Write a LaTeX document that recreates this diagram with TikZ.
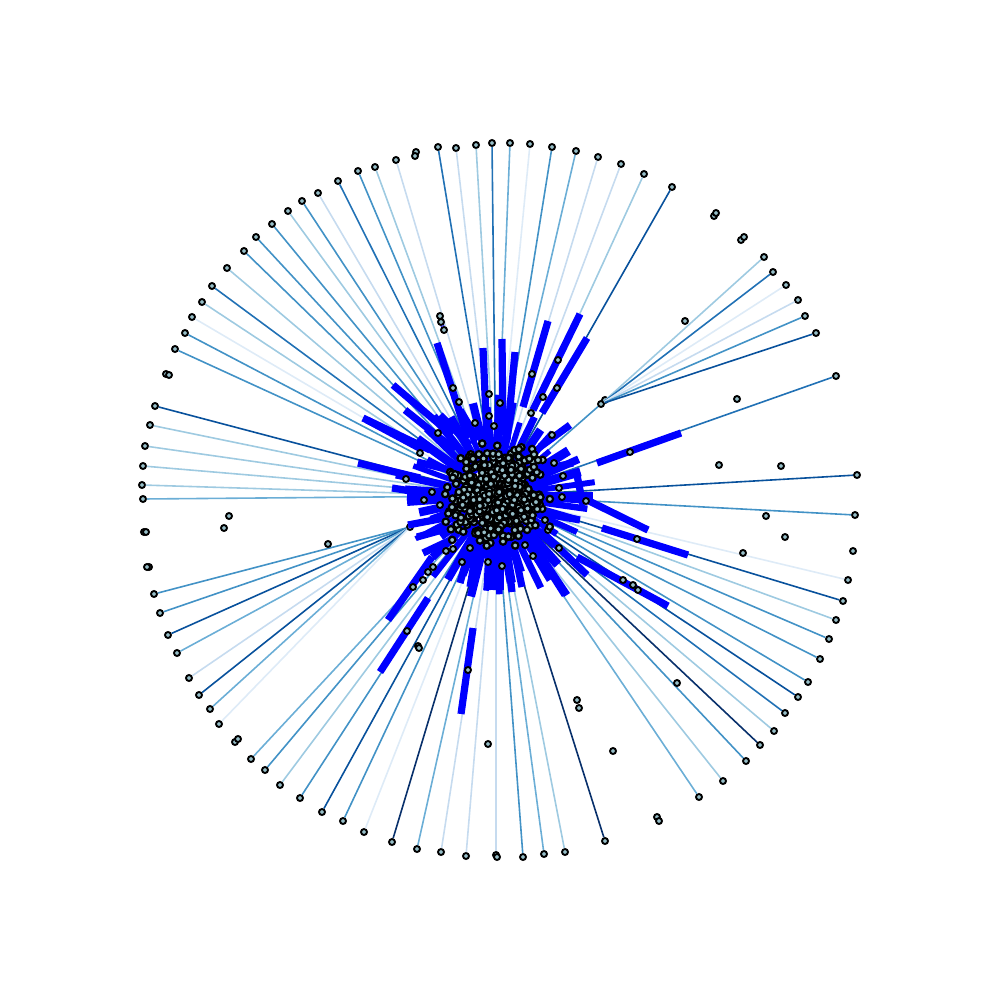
\documentclass[tikz,border=0pt]{standalone}
\usetikzlibrary{calc}
\definecolor{B1}{HTML}{DEEBF7}
\definecolor{B2}{HTML}{C6DBEF}
\definecolor{B3}{HTML}{9ECAE1}
\definecolor{B4}{HTML}{6BAED6}
\definecolor{B5}{HTML}{4292C6}
\definecolor{B6}{HTML}{2171B5}
\definecolor{B7}{HTML}{08519C}
\definecolor{B8}{HTML}{08306B}
\definecolor{nodefill}{RGB}{150,190,200}
\tikzset{
  dot/.style={circle,draw=black,fill=nodefill,line width=0.95pt,inner sep=0pt,minimum size=3pt},
  cdot/.style={dot,line width=1.1pt,minimum size=3.2pt},
  thin/.style={line width=0.8pt},
  bar/.style={draw=blue,line width=3.6pt,line cap=butt}
}
\begin{document}
\begin{tikzpicture}[x=0.5pt,y=-0.5pt]
\useasboundingbox (0,0) rectangle (1000,1000);
\pgfmathsetseed{11}
\coordinate (ctr) at (496,496);
% hub nodes
\node[dot] (hLL) at (410,527) {};
\node[dot] (hUR) at (601,404) {};
\node[dot] (hUR2) at (605,400) {};
% ring nodes with thin lines toward the centre
\foreach \x/\y/\c [count=\n] in {
375/167/B3, 358/171/B5, 338/181/B6, 318/193/B2, 302/201/B5, 288/211/B3, 272/224/B5, 256/237/B5, 244/251/B5, 227/268/B3, 212/286/B6, 202/302/B3, 192/317/B1, 185/333/B5, 175/349/B5, 155/406/B7, 150/425/B3, 145/446/B3, 143/466/B3, 142/485/B3, 143/499/B4,
396/160/B2, 438/147/B6, 456/148/B2, 476/145/B3, 492/143/B6, 510/143/B4, 530/144/B1, 552/147/B5, 576/151/B4, 598/157/B2, 621/164/B2, 644/174/B3, 672/187/B7,
836/376/B6, 857/475/B7, 855/515/B5, 848/580/B1, 843/601/B7, 836/620/B3, 829/639/B5, 820/659/B5, 808/682/B5, 798/697/B7, 785/713/B6, 774/731/B3, 760/745/B8, 746/761/B5, 723/781/B3, 699/797/B4,
605/841/B8, 565/852/B3, 544/854/B4, 523/857/B5, 496/855/B2, 466/856/B2, 441/852/B2, 417/849/B4, 392/842/B8, 364/832/B1, 343/821/B5, 322/812/B7, 300/798/B5, 280/785/B3, 265/770/B5, 251/759/B4}{
  \node[dot] (o\n) at (\x,\y) {};
  \draw[thin,\c] (o\n) -- ($(ctr)!0.12!(o\n)$);
}
% lower-left group converging at hub
\foreach \x/\y/\c [count=\n] in {154/594/B5, 160/613/B5, 168/635/B7, 177/653/B4, 189/678/B2, 199/695/B7, 210/709/B4, 219/724/B1}{
  \node[dot] (p\n) at (\x,\y) {};
  \draw[thin,\c] (p\n) -- (hLL);
}
% upper-right group converging at hub
\foreach \x/\y/\c [count=\n] in {764/257/B3, 773/272/B6, 786/285/B1, 798/300/B2, 805/316/B5, 816/333/B7}{
  \node[dot] (u\n) at (\x,\y) {};
  \draw[thin,\c] (u\n) -- (hUR);
}
\draw[thin,B5] (hUR) -- ($(ctr)!0.4!(hUR)$);
\draw[thin,B3] (hLL) -- ($(ctr)!0.4!(hLL)$);
% halo of short thick bars
\foreach \a in {0,8,...,356}{
  \pgfmathsetmacro\L{84+20*rand}
  \pgfmathsetmacro\W{3.6+1.2*rand}
  \draw[bar,line width=\W pt] ($(ctr)+(\a:30)$) -- ($(ctr)+(\a:\L)$);
}
% long thick bars
\foreach \xa/\ya/\xb/\yb [count=\n] in {
437/343/468/438, 483/348/487/440, 502/339/503/435, 515/352/507/440, 548/321/523/407, 580/314/533/410, 587/338/542/413,
393/385/452/435, 363/418/430/450, 358/463/420/478, 392/488/450/497, 407/497/453/500,
681/433/597/463, 570/425/540/447, 573/463/540/470, 576/470/583/505, 583/500/540/497, 648/530/587/500, 688/555/602/528, 580/520/540/513, 668/606/577/557, 567/595/537/550,
473/628/461/714, 428/598/380/672, 388/620/432/557, 408/525/450/517, 417/537/453/527, 423/553/457/537, 367/420/423/450, 417/462/450/470,
460/583/475/530, 470/587/480/530, 487/590/490/530, 493/590/495/530, 500/590/500/530, 512/592/505/530, 522/587/510/530, 550/580/520/530, 565/595/530/540, 587/575/540/530,
405/410/455/450, 440/415/470/445, 460/410/478/440}{
  \coordinate (ta\n) at (\xa,\ya);
  \coordinate (tb\n) at (\xb,\yb);
  \draw[bar] (ta\n) -- (tb\n);
}
% small isolated pieces
\node[dot] (s1) at (440,316) {};
\node[dot] (s2) at (441,322) {};
\node[dot] (s3) at (444,330) {};
\draw[blue,line width=2pt] (s2) -- (s3);
% isolated nodes and pairs
\foreach \x/\y [count=\n] in {416/152, 415/156, 714/216, 716/213, 741/240, 744/237, 166/374, 169/375, 149/567, 147/567, 144/532, 146/532, 235/742, 238/739, 853/551, 685/321, 737/399, 719/465, 781/466, 229/516, 224/528, 328/544, 766/516, 785/537, 743/553, 418/646, 419/648, 677/683, 577/700, 579/708, 613/751, 488/744, 657/817, 659/821, 497/857}{
  \node[dot] (q\n) at (\x,\y) {};
}
% nodes along the bars
\foreach \x/\y [count=\n] in {453/388, 459/402, 489/394, 500/403, 532/374, 558/360, 557/388, 543/397, 531/413, 489/416, 494/426, 475/423, 630/452, 438/433, 420/453, 406/479, 586/501, 552/435,
637/539, 623/580, 633/585, 638/590, 533/556, 502/566, 488/562, 462/562, 446/551, 453/549, 433/567, 428/572, 423/580, 413/587, 407/631, 468/670, 559/548,
554/463, 563/476, 559/488, 562/497, 440/505, 432/492, 424/500, 545/520, 548/530, 470/548, 525/545}{
  \node[dot] (m\n) at (\x,\y) {};
}
% dense central cluster
\foreach \i in {1,...,680}{
  \pgfmathsetmacro\dx{20*(rand+rand+rand)}
  \pgfmathsetmacro\dy{20*(rand+rand+rand)}
  \node[cdot] (c\i) at ($(ctr)+(\dx,\dy)$) {};
}
\end{tikzpicture}
\end{document}
